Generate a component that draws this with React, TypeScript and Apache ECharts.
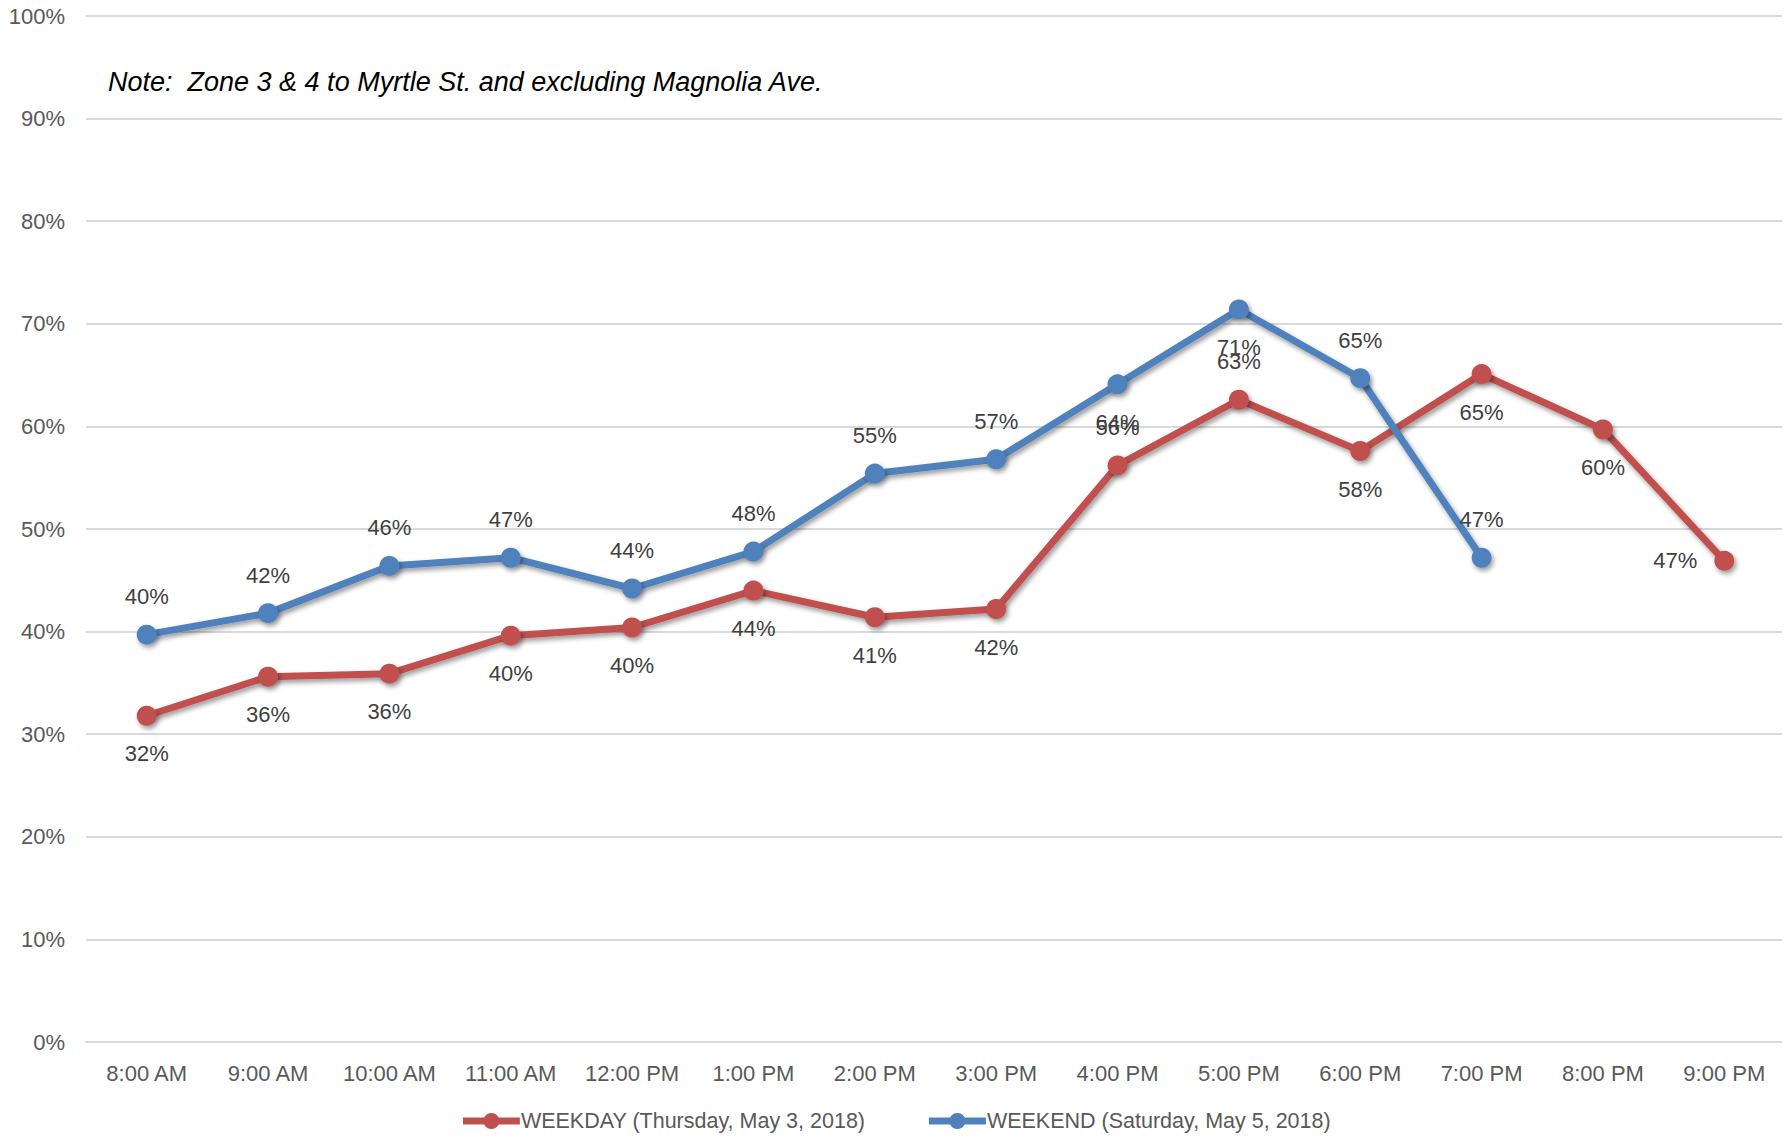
import React, { useEffect, useRef } from "react";
import * as echarts from "echarts";

const categories = [
  "8:00 AM", "9:00 AM", "10:00 AM", "11:00 AM", "12:00 PM", "1:00 PM", "2:00 PM",
  "3:00 PM", "4:00 PM", "5:00 PM", "6:00 PM", "7:00 PM", "8:00 PM", "9:00 PM",
];
const weekdayValues = [31.8, 35.6, 35.9, 39.6, 40.4, 44.0, 41.4, 42.2, 56.2, 62.6, 57.6, 65.1, 59.7, 46.9];
const weekendValues: (number | null)[] = [39.7, 41.8, 46.4, 47.2, 44.2, 47.8, 55.4, 56.8, 64.1, 71.4, 64.7, 47.2, null, null];
const yTicks = [0, 10, 20, 30, 40, 50, 60, 70, 80, 90, 100];

// label placement (style), separate from values
const weekdayLabelPos = ["bottom", "bottom", "bottom", "bottom", "bottom", "bottom", "bottom", "bottom", "top", "top", "bottom", "bottom", "bottom", "left"];
const weekendLabelPos = ["top", "top", "top", "top", "top", "top", "top", "top", "bottom", "bottom", "top", "top", "top", "top"];

const FONT = "'Liberation Sans', Arial, sans-serif";
const RED = "#C0504D";
const BLUE = "#4F81BD";

export default function App() {
  const ref = useRef<HTMLDivElement>(null);
  useEffect(() => {
    const chart = echarts.init(ref.current!, null, { renderer: "svg" });
    const shadow = {
      shadowColor: "rgba(0,0,0,0.4)",
      shadowBlur: 5,
      shadowOffsetX: 2,
      shadowOffsetY: 3,
    };
    const mk = (vals: (number | null)[], pos: string[]) =>
      vals.map((v, i) => ({
        value: v,
        label: { position: pos[i] },
      }));
    const labelBase = {
      show: true,
      distance: 17,
      fontFamily: FONT,
      fontSize: 22,
      color: "#404040",
      formatter: (p: any) => Math.round(p.value) + "%",
    };
    chart.setOption({
      animation: false,
      backgroundColor: "#ffffff",
      grid: { left: 86, right: 5, top: 16, bottom: 100, containLabel: false },
      legend: {
        bottom: 5,
        left: "center",
        itemWidth: 57,
        itemHeight: 20,
        itemGap: 60,
        lineStyle: { width: 7 },
        textStyle: { fontFamily: FONT, fontSize: 21.5, color: "#595959", padding: [0, 0, 0, -4] },
        data: ["WEEKDAY (Thursday, May 3, 2018)", "WEEKEND (Saturday, May 5, 2018)"],
      },
      xAxis: {
        type: "category",
        data: categories,
        boundaryGap: true,
        axisLine: { show: true, lineStyle: { color: "#D9D9D9", width: 2 } },
        axisTick: { show: false },
        axisLabel: { fontFamily: FONT, fontSize: 22, color: "#595959", margin: 20, interval: 0 },
      },
      yAxis: {
        type: "value",
        min: yTicks[0],
        max: yTicks[yTicks.length - 1],
        interval: 10,
        axisLine: { show: false },
        axisTick: { show: false },
        axisLabel: { fontFamily: FONT, fontSize: 22, color: "#595959", margin: 21, formatter: "{value}%" },
        splitLine: { lineStyle: { color: "#D9D9D9", width: 2 } },
      },
      graphic: [
        {
          type: "text",
          left: 108,
          top: 68,
          style: {
            text: "Note:  Zone 3 & 4 to Myrtle St. and excluding Magnolia Ave.",
            fontFamily: FONT,
            fontStyle: "italic",
            fontSize: 27,
            fill: "#000000",
          },
        },
      ],
      series: [
        {
          name: "WEEKDAY (Thursday, May 3, 2018)",
          type: "line",
          data: mk(weekdayValues, weekdayLabelPos),
          color: RED,
          symbol: "circle",
          symbolSize: 20,
          lineStyle: { width: 7, color: RED, ...shadow },
          itemStyle: { color: RED, ...shadow },
          label: labelBase,
          z: 3,
        },
        {
          name: "WEEKEND (Saturday, May 5, 2018)",
          type: "line",
          data: mk(weekendValues, weekendLabelPos),
          color: BLUE,
          symbol: "circle",
          symbolSize: 20,
          lineStyle: { width: 7, color: BLUE, ...shadow },
          itemStyle: { color: BLUE, ...shadow },
          label: labelBase,
          z: 4,
        },
      ],
    });
    return () => chart.dispose();
  }, []);
  return <div ref={ref} style={{ width: 1790, height: 1142, margin: -8 }} />;
}
